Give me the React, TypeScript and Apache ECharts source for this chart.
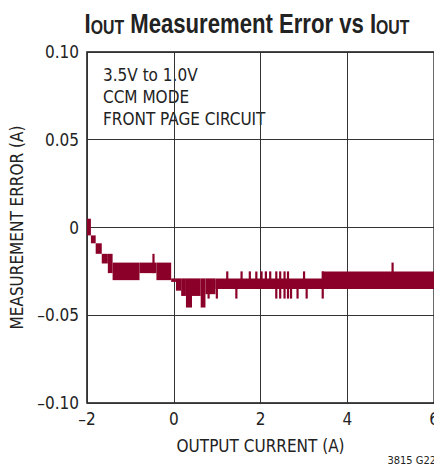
import React, { useEffect, useRef } from "react";
import * as echarts from "echarts";

// x-axis ticks
const xTicks = [-2, 0, 2, 4, 6];
// y-axis ticks
const yTicks = [-0.1, -0.05, 0, 0.05, 0.1];

// Trace band segments: [xStart, xEnd, upper, lower] (A, A)
const bandSegments: number[][] = [
  [-2.0, -1.91, 0.005, -0.0045],
  [-1.91, -1.8, -0.0045, -0.009],
  [-1.8, -1.66, -0.009, -0.015],
  [-1.66, -1.52, -0.015, -0.0205],
  [-1.52, -1.41, -0.015, -0.026],
  [-1.41, -0.79, -0.02, -0.03],
  [-0.79, -0.4, -0.02, -0.026],
  [-0.4, -0.06, -0.02, -0.03],
  [-0.06, 0.05, -0.029, -0.031],
  [0.05, 0.17, -0.029, -0.036],
  [0.17, 0.28, -0.029, -0.039],
  [0.28, 0.42, -0.029, -0.0456],
  [0.42, 0.62, -0.029, -0.039],
  [0.62, 0.73, -0.029, -0.0456],
  [0.73, 0.96, -0.029, -0.038],
  [0.96, 3.42, -0.029, -0.035],
  [3.42, 6.0, -0.025, -0.035],
];

// Narrow noise spikes: [x, upper, lower]
const spikes: number[][] = [
  [-0.47, -0.015, -0.026],
  [0.8, -0.03, -0.0405],
  [0.99, -0.03, -0.0405],
  [1.23, -0.025, -0.03],
  [1.44, -0.03, -0.0405],
  [1.56, -0.025, -0.03],
  [1.75, -0.025, -0.03],
  [1.9, -0.025, -0.03],
  [2.02, -0.025, -0.03],
  [2.12, -0.025, -0.03],
  [2.22, -0.025, -0.03],
  [2.36, -0.025, -0.0405],
  [2.45, -0.025, -0.0405],
  [2.55, -0.025, -0.0405],
  [2.63, -0.025, -0.0405],
  [2.7, -0.03, -0.0405],
  [2.85, -0.03, -0.0405],
  [3.0, -0.025, -0.03],
  [3.06, -0.03, -0.0405],
  [3.43, -0.025, -0.0405],
  [5.04, -0.02, -0.03],
];

// Annotation lines
const noteLines = ["3.5V to 1.0V", "CCM MODE", "FRONT PAGE CIRCUIT"];

const FONT = "'Liberation Sans Narrow', 'DejaVu Sans Condensed', 'Arial Narrow', sans-serif";
const TITLE_FONT = "'Liberation Sans', Arial, sans-serif";
const TRACE = "#8A0028";

const fmt = (v: number) => {
  if (Math.abs(v) < 1e-9) return "0";
  const s = Number.isInteger(v) ? String(v) : v.toFixed(2);
  return s.replace("-", "\u2013");
};

export default function App() {
  const ref = useRef<HTMLDivElement>(null);
  useEffect(() => {
    if (!ref.current) return;
    const chart = echarts.init(ref.current, undefined, { renderer: "svg" });
    chart.setOption({
      animation: false,
      backgroundColor: "#fff",
      grid: {
        left: 87,
        top: 52,
        width: 351,
        height: 351,
        show: true,
        borderColor: "#111",
        borderWidth: 1.5,
        backgroundColor: "transparent",
      },
      xAxis: {
        type: "value",
        min: xTicks[0],
        max: xTicks[xTicks.length - 1],
        interval: 2,
        axisLine: { show: false },
        axisTick: { show: false },
        splitLine: { show: true, lineStyle: { color: "#333", width: 1 } },
        axisLabel: {
          formatter: fmt,
          fontFamily: FONT,
          fontSize: 17,
          color: "#222",
          margin: 7,
        },
        name: "OUTPUT CURRENT (A)",
        nameLocation: "middle",
        nameGap: 34,
        nameTextStyle: { fontFamily: FONT, fontSize: 17, color: "#222" },
      },
      yAxis: {
        type: "value",
        min: yTicks[0],
        max: yTicks[yTicks.length - 1],
        interval: 0.05,
        axisLine: { show: false },
        axisTick: { show: false },
        splitLine: { show: true, lineStyle: { color: "#333", width: 1 } },
        axisLabel: {
          formatter: fmt,
          fontFamily: FONT,
          fontSize: 17,
          color: "#222",
          margin: 8,
        },
        name: "MEASUREMENT ERROR (A)",
        nameLocation: "middle",
        nameGap: 62,
        nameTextStyle: { fontFamily: FONT, fontSize: 17, color: "#222" },
      },
      graphic: [
        {
          type: "text",
          x: 247,
          y: 5,
          scaleX: 0.79,
          style: {
            text: "{b|I}{s|OUT}{b| Measurement Error vs I}{s|OUT}",
            align: "center",
            fontFamily: TITLE_FONT,
            rich: {
              b: {
                fontFamily: TITLE_FONT,
                fontWeight: "bold",
                fontSize: 28,
                lineHeight: 32,
                verticalAlign: "bottom",
                fill: "#222",
              },
              s: {
                fontFamily: TITLE_FONT,
                fontWeight: "bold",
                fontSize: 20,
                lineHeight: 13,
                verticalAlign: "bottom",
                fill: "#222",
              },
            },
          },
        },
        {
          type: "text",
          x: 103,
          y: 64,
          style: {
            text: noteLines.join("\n"),
            fontFamily: FONT,
            fontSize: 17,
            lineHeight: 22,
            fill: "#222",
          },
        },
        {
          type: "text",
          x: 436,
          y: 455,
          style: {
            text: "3815 G22",
            align: "right",
            verticalAlign: "top",
            fontFamily: FONT,
            fontSize: 11,
            fill: "#222",
          },
        },
      ],
      series: [
        {
          type: "custom",
          data: bandSegments,
          encode: { x: [0, 1], y: [2, 3] },
          renderItem: (params: any, api: any) => {
            const p0 = api.coord([api.value(0), api.value(2)]);
            const p1 = api.coord([api.value(1), api.value(3)]);
            return {
              type: "rect",
              shape: { x: p0[0], y: p0[1], width: p1[0] - p0[0], height: p1[1] - p0[1] },
              style: { fill: TRACE },
            };
          },
          z: 5,
        },
        {
          type: "custom",
          data: spikes,
          encode: { x: [0], y: [1, 2] },
          renderItem: (params: any, api: any) => {
            const p0 = api.coord([api.value(0), api.value(1)]);
            const p1 = api.coord([api.value(0), api.value(2)]);
            return {
              type: "rect",
              shape: { x: p0[0] - 1, y: p0[1], width: 2.2, height: p1[1] - p0[1] },
              style: { fill: TRACE },
            };
          },
          z: 5,
        },
      ],
    });
    return () => chart.dispose();
  }, []);
  return <div ref={ref} style={{ width: 442, height: 473, margin: -8 }} />;
}
